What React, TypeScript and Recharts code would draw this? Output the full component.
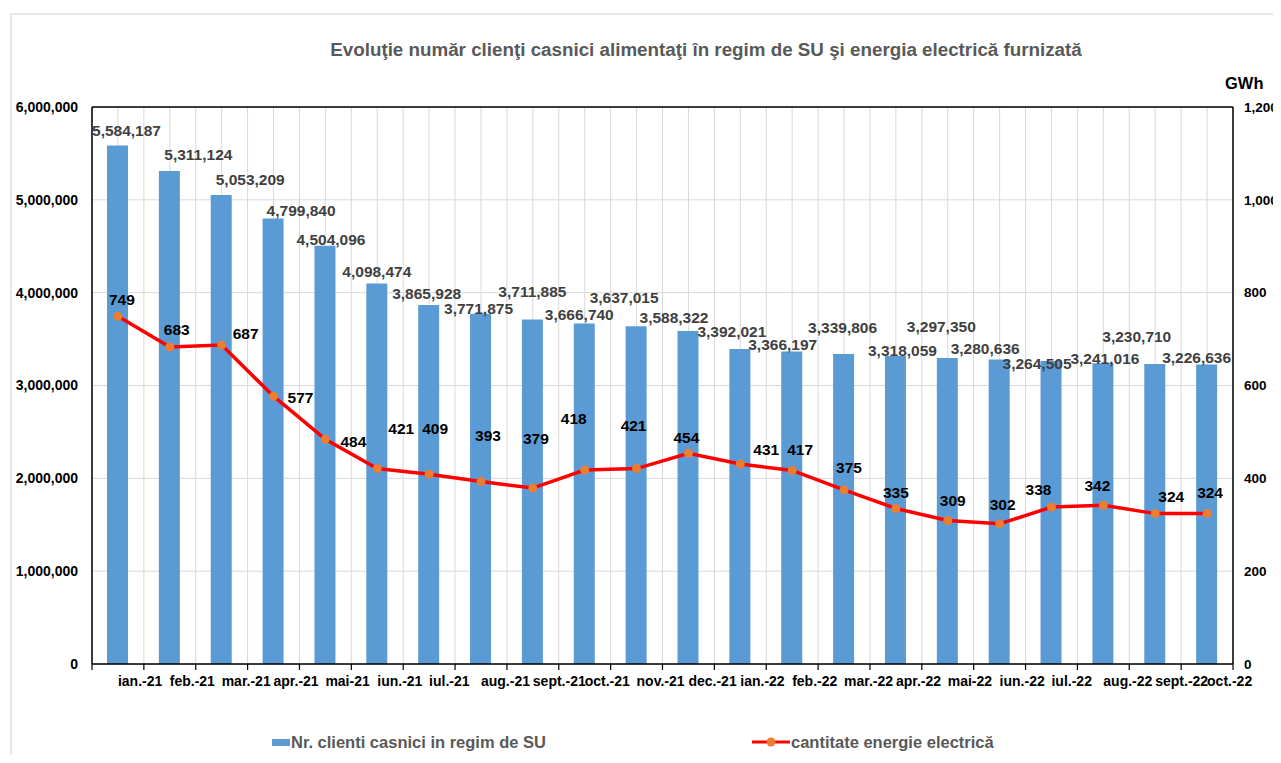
import { Bar, CartesianGrid, ComposedChart, Legend, LabelList, Line, ReferenceLine, XAxis, YAxis } from "recharts";

const months = [
	"ian.-21", "feb.-21", "mar.-21", "apr.-21", "mai-21", "iun.-21", "iul.-21", "aug.-21",
	"sept.-21", "oct.-21", "nov.-21", "dec.-21", "ian.-22", "feb.-22", "mar.-22", "apr.-22",
	"mai-22", "iun.-22", "iul.-22", "aug.-22", "sept.-22", "oct.-22",
];

const clients = [
	5584187, 5311124, 5053209, 4799840, 4504096, 4098474, 3865928, 3771875,
	3711885, 3666740, 3637015, 3588322, 3392021, 3366197, 3339806, 3318059,
	3297350, 3280636, 3264505, 3241016, 3230710, 3226636,
];

const energy = [
	749, 683, 687, 577, 484, 421, 409, 393, 379, 418, 421, 454,
	431, 417, 375, 335, 309, 302, 338, 342, 324, 324,
];

const leftTicks = [0, 1000000, 2000000, 3000000, 4000000, 5000000, 6000000];
const rightTicks = [0, 200, 400, 600, 800, 1000, 1200];

const data = months.map((month, i) => ({ month, clients: clients[i], energy: energy[i] }));

// label nudges (Excel placed them by hand to avoid overlaps), [dx, dy]
const barLabelNudge = [
	[9, -16], [29, -17], [29, -16], [28, -8], [6, -7], [0, -13], [-2, -12], [-2, -6],
	[0, -28], [-5, -10], [-12, -29], [-14, -14], [-8, -18], [-9, -8], [-1, -27], [7, -6],
	[-6, -32], [-14, -11], [-14, 2], [2, -5], [-18, -28], [-10, -7],
];
const lineLabelNudge = [
	[4, -17], [7, -18], [24, -12], [27, 1], [28, 2], [24, -41], [6, -46], [7, -47],
	[3, -50], [-11, -52], [-3, -44], [-2, -16], [26, -15], [8, -21], [5, -23], [0, -17],
	[5, -21], [3, -20], [-13, -18], [-6, -20], [16, -18], [3, -22],
];

const FONT = "Liberation Sans, Arial, sans-serif";
const W = 1273;
const H = 747;
const MARGIN = { top: 99, right: 4, bottom: 3, left: 4 };
const PLOT_LEFT = 84;
const PLOT_W = W - PLOT_LEFT - 48;
const BAND = PLOT_W / months.length;

const fmt = (v: number) => v.toLocaleString("en-US");

function MonthTick(props: any) {
	const { x, y, payload, index } = props;
	const axisY = y - 12;
	const edge = x - BAND / 2;
	return (
		<g>
			<line x1={edge} y1={axisY} x2={edge} y2={axisY + 6} stroke='#000' strokeWidth={1.2} />
			{index === months.length - 1 && (
				<line x1={x + BAND / 2} y1={axisY} x2={x + BAND / 2} y2={axisY + 6} stroke='#000' strokeWidth={1.2} />
			)}
			<text x={x} y={y} dy='0.71em' textAnchor='start' style={{ fontFamily: FONT }} fontWeight='bold' fontSize={14} fill='#000'>
				{payload.value}
			</text>
		</g>
	);
}

function BarValue(props: any) {
	const { x, y, width, value, index } = props;
	const [dx, dy] = barLabelNudge[index] || [0, -10];
	return (
		<text x={x + width / 2 + dx} y={y + dy + 6} textAnchor='middle' style={{ fontFamily: FONT }} fontWeight='bold' fontSize={15.5} fill='#404040'>
			{fmt(value)}
		</text>
	);
}

function LineValue(props: any) {
	const { x, y, value, index } = props;
	const [dx, dy] = lineLabelNudge[index] || [0, -18];
	return (
		<text x={x + dx} y={y + dy + 6} textAnchor='middle' style={{ fontFamily: FONT }} fontWeight='bold' fontSize={15.5} fill='#000'>
			{value}
		</text>
	);
}

function LegendContent({ payload }: any) {
	const items = payload || [];
	const lefts = [264, 744];
	return (
		<div style={{ position: "relative", width: W, height: 20, fontFamily: FONT, fontWeight: "bold", fontSize: 16.5, color: "#595959" }}>
			{items.map((item: any, i: number) => (
				<div key={item.value} style={{ position: "absolute", left: lefts[i], top: 0, height: 20, display: "flex", alignItems: "center", whiteSpace: "nowrap" }}>
					{item.type === "line" ? (
						<svg width={38} height={12} style={{ marginRight: 1 }}>
							<line x1={0} y1={6} x2={38} y2={6} stroke='#FF0000' strokeWidth={3} />
							<circle cx={19} cy={6} r={4.5} fill='#ED7D31' />
						</svg>
					) : (
						<div style={{ width: 18, height: 7, background: "#5B9BD5", marginRight: 1 }} />
					)}
					<span>{item.value}</span>
				</div>
			))}
		</div>
	);
}

export default function App() {
	return (
		<div style={{ position: "relative", width: W, height: H, fontFamily: FONT }}>
			<div style={{ position: "absolute", left: 2, top: 5, right: 0, bottom: 0, borderTop: "2px solid #E6E6E6", borderLeft: "2px solid #E6E6E6" }} />
			<div style={{ position: "absolute", left: 98, top: 31, width: 1200, textAlign: "center", fontFamily: FONT, fontWeight: "bold", fontSize: 18.8, lineHeight: "22px", color: "#595959" }}>
				Evoluţie număr clienţi casnici alimentaţi în regim de SU şi energia electrică furnizată
			</div>
			<div style={{ position: "absolute", left: 1217, top: 65, fontFamily: FONT, fontWeight: "bold", fontSize: 16.5, lineHeight: "20px", color: "#000" }}>
				GWh
			</div>
			<ComposedChart width={W} height={H} data={data} margin={MARGIN} style={{ position: "absolute", left: 0, top: 0, fontFamily: FONT }}>
				<CartesianGrid
					yAxisId='left'
					stroke='#D9D9D9'
					strokeWidth={1}
					verticalCoordinatesGenerator={({ offset }: any) =>
						Array.from({ length: months.length * 2 + 1 }, (_, i) => offset.left + (i * offset.width) / (months.length * 2))
					}
				/>
				<XAxis
					dataKey='month'
					height={68}
					interval={0}
					tickLine={false}
					tickSize={6}
					tickMargin={6}
					axisLine={{ stroke: "#000", strokeWidth: 1.5 }}
					tick={<MonthTick />}
				/>
				<YAxis
					yAxisId='left'
					width={80}
					domain={[0, 6000000]}
					ticks={leftTicks}
					interval={0}
					tickLine={false}
					tickSize={0}
					tickMargin={14}
					tickFormatter={fmt}
					axisLine={{ stroke: "#000", strokeWidth: 1.5 }}
					tick={{ fill: "#000", fontSize: 14, fontWeight: "bold", style: { fontFamily: FONT } }}
				/>
				<YAxis
					yAxisId='right'
					orientation='right'
					width={44}
					domain={[0, 1200]}
					ticks={rightTicks}
					interval={0}
					tickLine={false}
					tickSize={0}
					tickMargin={11}
					tickFormatter={fmt}
					axisLine={{ stroke: "#000", strokeWidth: 1.5 }}
					tick={{ fill: "#000", fontSize: 13.5, fontWeight: "bold", style: { fontFamily: FONT } }}
				/>
				<ReferenceLine yAxisId='left' y={6000000} stroke='#000' strokeWidth={1.5} />
				<Bar yAxisId='left' dataKey='clients' name='Nr. clienti casnici in regim de SU' fill='#5B9BD5' barSize={21} isAnimationActive={false}>
					<LabelList dataKey='clients' content={<BarValue />} />
				</Bar>
				<Line
					yAxisId='right'
					type='linear'
					dataKey='energy'
					name='cantitate energie electrică'
					stroke='#FF0000'
					strokeWidth={3.5}
					dot={{ r: 4.5, fill: "#ED7D31", stroke: "#ED7D31", strokeWidth: 0 }}
					legendType='line'
					isAnimationActive={false}>
					<LabelList dataKey='energy' content={<LineValue />} />
				</Line>
				<Legend verticalAlign='bottom' height={20} content={<LegendContent />} wrapperStyle={{ left: 0, width: W, bottom: 3 }} />
			</ComposedChart>
		</div>
	);
}
